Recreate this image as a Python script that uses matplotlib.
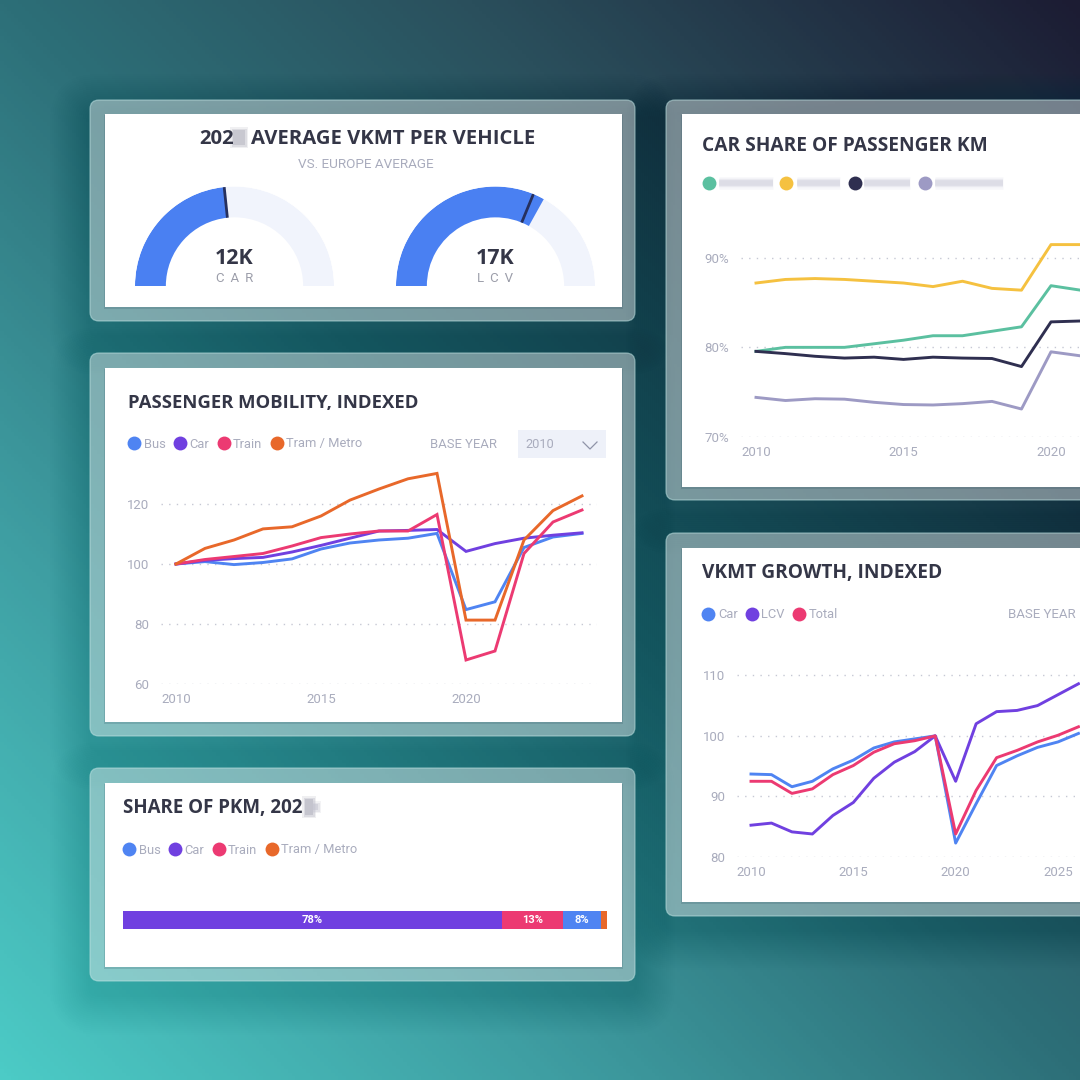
import numpy as np
import matplotlib
matplotlib.use("Agg")
import matplotlib.pyplot as plt
from matplotlib.colors import LinearSegmentedColormap
from matplotlib.patches import FancyBboxPatch, Rectangle
from matplotlib.lines import Line2D

plt.rcParams['font.family'] = ['Roboto', 'DejaVu Sans']

# ---------- data ----------
years_mob = list(range(2010, 2025))
mob_bus = [100, 100.8, 99.8, 100.5, 101.7, 105, 107, 108, 108.6, 110.2, 84.8, 87.4, 105.5, 109, 110.2]
mob_car = [100, 101.2, 101.8, 102.2, 104, 106.2, 108.6, 111, 111.2, 111.5, 104.2, 106.8, 108.6, 109.6, 110.4]
mob_train = [100, 101.5, 102.5, 103.5, 106, 108.8, 110, 111, 111, 116.5, 68, 71, 103.5, 114, 118]
mob_tram = [100, 105.2, 108, 111.7, 112.4, 116, 121.3, 125, 128.4, 130.2, 81.3, 81.3, 108, 117.8, 122.7]

years_share = list(range(2010, 2022))
share_green = [79.55, 80, 80, 80, 80.4, 80.8, 81.3, 81.3, 81.8, 82.3, 86.9, 86.4]
share_yellow = [87.2, 87.6, 87.7, 87.6, 87.4, 87.2, 86.8, 87.4, 86.6, 86.4, 91.5, 91.5]
share_dark = [79.55, 79.3, 79, 78.8, 78.9, 78.65, 78.9, 78.8, 78.75, 77.85, 82.85, 82.95]
share_lav = [74.4, 74.05, 74.25, 74.2, 73.85, 73.6, 73.55, 73.7, 73.95, 73.1, 79.5, 79.05]

years_vkmt = list(range(2010, 2027))
vkmt_car = [93.7, 93.6, 91.6, 92.5, 94.55, 96, 98, 99, 99.5, 100, 82.3, 88.8, 95.1, 96.7, 98.1, 99, 100.4]
vkmt_lcv = [85.25, 85.6, 84.15, 83.8, 86.85, 89, 93, 95.65, 97.4, 100, 92.5, 102, 104, 104.2, 105, 106.8, 108.6]
vkmt_total = [92.5, 92.5, 90.5, 91.25, 93.6, 95.1, 97.3, 98.7, 99.2, 100, 83.8, 91, 96.4, 97.6, 99, 100.1, 101.5]

pkm_labels = ['Car', 'Train', 'Bus', 'Tram / Metro']
pkm_values = [78.3, 12.6, 7.9, 1.2]
pkm_text = ['78%', '13%', '8%', '']

gauge_max = 25.7
gauge_names = ['CAR', 'LCV']
gauge_values = [12, 17]
gauge_targets = [12, 16.05]
gauge_text = ['12K', '17K']

# ---------- style ----------
BLUE, PURPLE, PINK, ORANGE = '#4f84f2', '#7040e0', '#ec3a72', '#e8682a'
GREEN, YELLOW, DARK, LAV = '#5bc0a0', '#f5c140', '#2f2f50', '#9d9ac4'
TITLE = '#343647'
MUTED = '#a9acbd'
TITLE_FONT = 'Open Sans'

fig = plt.figure(figsize=(10.8, 10.8), dpi=100)
W = H = 1080.0


def rect(x0, x1, y0, y1):
    return [x0 / W, 1 - y1 / H, (x1 - x0) / W, (y1 - y0) / H]


# ---------- background ----------
bg = fig.add_axes([0, 0, 1, 1], zorder=0)
yy, xx = np.mgrid[0:1:300j, 0:1:300j]  # yy: 0 top -> 1 bottom
t = (xx + (1 - yy)) / 2
cmap = LinearSegmentedColormap.from_list(
    'bg', [(0, '#4ccbc6'), (0.25, '#3f9fa3'), (0.5, '#2d6f78'), (0.72, '#2a4f5c'), (1, '#1c1c33')])
bg.imshow(t, cmap=cmap, vmin=0, vmax=1, aspect='auto', extent=[0, W, H, 0])
bg.axis('off')

# ---------- overlay in pixel coordinates ----------
ov = fig.add_axes([0, 0, 1, 1], zorder=1)
ov.set_xlim(0, W)
ov.set_ylim(H, 0)
ov.axis('off')
ov.patch.set_alpha(0)

panels = [
    ((90, 100, 635, 321), (105, 114, 622, 307)),
    ((90, 353, 635, 736), (105, 368, 622, 722)),
    ((90, 768, 635, 981), (105, 783, 622, 967)),
    ((666, 100, 1110, 500), (682, 114, 1110, 487)),
    ((666, 533, 1110, 916), (682, 548, 1110, 902)),
]
for (x0, y0, x1, y1), (a0, b0, a1, b1) in panels:
    for grow in range(40, 0, -2):
        ov.add_patch(FancyBboxPatch((x0 - grow, y0 - grow + 14), x1 - x0 + 2 * grow, y1 - y0 + 2 * grow,
                                    boxstyle=f'round,pad=0,rounding_size={grow + 8}',
                                    fc='#10283a', ec='none', alpha=0.005))
    ov.add_patch(FancyBboxPatch((x0, y0), x1 - x0, y1 - y0, boxstyle='round,pad=0,rounding_size=9',
                                fc='#ffffff', ec='none', alpha=0.42))
    ov.add_patch(FancyBboxPatch((x0, y0), x1 - x0, y1 - y0, boxstyle='round,pad=0,rounding_size=9',
                                fc='none', ec='#bfe3e3', lw=0.9, alpha=0.55))
    ov.add_patch(Rectangle((a0 - 1, b0 + 1), a1 - a0 + 2, b1 - b0 + 1, fc='#24495a', ec='none', alpha=0.18))
    ov.add_patch(Rectangle((a0, b0), a1 - a0, b1 - b0, fc='white', ec='none'))


def title(x, y, s, size):
    ov.text(x, y, s, fontsize=size, fontweight='bold', family=TITLE_FONT, color=TITLE, ha='left', va='center')


def smudge(x0, x1, y0, y1, color='#a8a8b6'):
    for g, a in ((3, .2), (1.5, .3), (0, .5)):
        ov.add_patch(Rectangle((x0 - g, y0 - g), x1 - x0 + 2 * g, y1 - y0 + 2 * g, fc=color, ec='none', alpha=a))


# titles
title(199, 138.5, '202', 14.6)
smudge(233, 245, 130, 145, '#b4b4c0')
title(251, 138.5, 'AVERAGE VKMT PER VEHICLE', 14.6)
ov.text(366, 164, 'VS. EUROPE AVERAGE', fontsize=9.7, color=MUTED, ha='center', va='center')
title(128, 402.5, 'PASSENGER MOBILITY, INDEXED', 13.3)
title(123, 807.5, 'SHARE OF PKM, 202', 13.5)
smudge(305, 313, 799, 815, '#b0b0bc')
smudge(313, 318, 804, 810, '#c4c4d0')
title(702, 146, 'CAR SHARE OF PASSENGER KM', 13.8)
title(702, 573, 'VKMT GROWTH, INDEXED', 13.75)

# base-year controls
ov.text(464, 445, 'BASE YEAR', fontsize=9.4, color=MUTED, ha='center', va='center')
ov.add_patch(Rectangle((518, 430), 88, 28, fc='#eef1f9', ec='none'))
ov.text(525, 444, '2010', fontsize=9.2, color=MUTED, ha='left', va='center')
ov.plot([583, 590, 597], [442, 449, 442], color='#8f93a8', lw=0.9)
ov.text(1008, 615, 'BASE YEAR', fontsize=9.5, color=MUTED, ha='left', va='center')

# blurred legend of the car-share panel
for mx, col, bx0, bx1 in ((709, GREEN, 719, 773), (786, YELLOW, 797, 840),
                          (855, DARK, 864, 910), (925, LAV, 935, 1003)):
    ov.plot([mx], [183], 'o', ms=10, color=col, mec='none')
    for lw, a in ((9, .12), (6, .25), (4, .35)):
        ov.plot([bx0, bx1], [183, 183], color='#c5c5d6', lw=lw, alpha=a, solid_capstyle='butt')


# ---------- line charts ----------
def chart(x0, x1, y0, y1, xa, xb, ya, yb, xticks, yticks, yfmt, xpad, ypad):
    """Axes placed at pixels; (xa: (value, px), ya: (value, px)) calibrate the scales."""
    ax = fig.add_axes(rect(x0, x1, y0, y1), zorder=2)
    kx = (xb[0] - xa[0]) / (xb[1] - xa[1])
    ky = (yb[0] - ya[0]) / (yb[1] - ya[1])
    ax.set_xlim(xa[0] + (x0 - xa[1]) * kx, xa[0] + (x1 - xa[1]) * kx)
    ax.set_ylim(ya[0] + (y1 - ya[1]) * ky, ya[0] + (y0 - ya[1]) * ky)
    ax.patch.set_alpha(0)
    for s in ax.spines.values():
        s.set_visible(False)
    ax.set_xticks(xticks)
    ax.set_yticks(yticks)
    ax.set_yticklabels([yfmt.format(v) for v in yticks])
    ax.tick_params(axis='both', length=0, labelsize=9.5, labelcolor=MUTED)
    ax.tick_params(axis='x', pad=xpad)
    ax.tick_params(axis='y', pad=ypad)
    ax.grid(axis='y', color='#c6c8d4', lw=1.0, linestyle=(0, (1, 4.5)))
    ax.set_axisbelow(True)
    return ax


def legend(ax, names, colors, x, y):
    hs = [Line2D([], [], marker='o', ls='', ms=10, color=c, mec='none', label=n) for n, c in zip(names, colors)]
    ax.legend(handles=hs, loc='center left', bbox_to_anchor=(x / W, 1 - y / H), bbox_transform=fig.transFigure,
              frameon=False, ncol=len(hs), fontsize=9.3, labelcolor=MUTED, borderaxespad=0, borderpad=0,
              handlelength=1.0, handletextpad=0.22, columnspacing=0.62)


# passenger mobility
ax = chart(161, 597, 460, 684, (2010, 176), (2020, 466), (60, 684), (120, 504),
           [2010, 2015, 2020], [60, 80, 100, 120], '{}', 6.5, 8.5)
for v, c in ((mob_bus, BLUE), (mob_car, PURPLE), (mob_train, PINK), (mob_tram, ORANGE)):
    ax.plot(years_mob, v, color=c, lw=2.1, solid_joinstyle='miter')
legend(ax, ['Bus', 'Car', 'Train', 'Tram / Metro'], [BLUE, PURPLE, PINK, ORANGE], 128, 444)

# car share
ax = chart(741, 1110, 230, 437, (2010, 756), (2020, 1051), (70, 436.7), (90, 258),
           [2010, 2015, 2020], [70, 80, 90], '{}%', 6.5, 8.5)
for v, c in ((share_green, GREEN), (share_yellow, YELLOW), (share_lav, LAV), (share_dark, DARK)):
    ax.plot(years_share, v, color=c, lw=2.1)

# vkmt
ax = chart(737, 1110, 650, 857, (2010, 751), (2025, 1058), (80, 857), (110, 675.3),
           [2010, 2015, 2020, 2025], [80, 90, 100, 110], '{}', 6.5, 8.5)
for v, c in ((vkmt_car, BLUE), (vkmt_lcv, PURPLE), (vkmt_total, PINK)):
    ax.plot(years_vkmt, v, color=c, lw=2.1)
legend(ax, ['Car', 'LCV', 'Total'], [BLUE, PURPLE, PINK], 702, 615)

# ---------- stacked bar ----------
ax = fig.add_axes(rect(123, 607, 911, 929), zorder=2)
left = 0
for name, val, lab in zip(pkm_labels, pkm_values, pkm_text):
    col = {'Car': PURPLE, 'Train': PINK, 'Bus': BLUE, 'Tram / Metro': ORANGE}[name]
    bars = ax.barh([0], [val], left=left, height=1, color=col)
    ax.bar_label(bars, labels=[lab], label_type='center', color='white', fontsize=8, fontweight='bold')
    left += val
ax.set_xlim(0, 100)
ax.set_ylim(-0.5, 0.5)
ax.axis('off')
legend(ax, ['Bus', 'Car', 'Train', 'Tram / Metro'], [BLUE, PURPLE, PINK, ORANGE], 123, 850)

# ---------- gauges ----------
for cx, name, val, tgt, txt in zip((234.5, 495.5), gauge_names, gauge_values, gauge_targets, gauge_text):
    R = 99.5
    ax = fig.add_axes(rect(cx - R, cx + R, 286 - R, 286 + R), projection='polar', zorder=2)
    ax.set_theta_zero_location('W')
    ax.set_theta_direction(-1)
    ax.set_rlim(0, 1)
    ax.bar(np.pi / 2, 0.31, width=np.pi, bottom=0.69, color='#f1f4fc', lw=0)
    th = np.pi * val / gauge_max
    ax.bar(th / 2, 0.31, width=th, bottom=0.69, color='#4a80f2', lw=0)
    tt = np.pi * tgt / gauge_max
    ax.plot([tt, tt], [0.69, 1.0], color='#26305e', lw=2, solid_capstyle='butt')
    ax.axis('off')
    ax.patch.set_alpha(0)
    ov.text(cx, 258, txt, fontsize=15.5, fontweight='bold', family=TITLE_FONT, color=TITLE, ha='center', va='center', zorder=5)
    ov.text(cx, 279, ' \u2009'.join(name), fontsize=9.5, color='#9c9eaa', ha='center', va='center', zorder=5)

fig.savefig('out.png', dpi=100)
